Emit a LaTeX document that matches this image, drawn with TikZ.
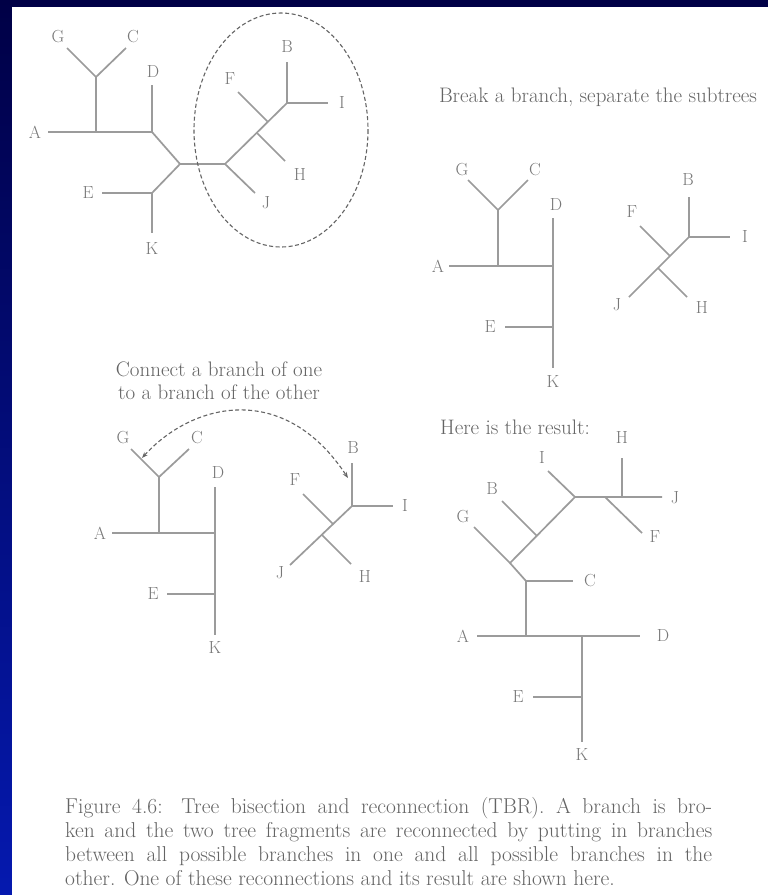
\documentclass[tikz,border=0pt]{standalone}
\usetikzlibrary{arrows.meta}
\definecolor{linegray}{RGB}{155,155,155}
\definecolor{labgray}{RGB}{120,120,120}
\definecolor{txtgray}{RGB}{100,100,100}
\definecolor{navytop}{RGB}{0,0,70}
\definecolor{navybot}{RGB}{5,25,175}
\begin{document}
\begin{tikzpicture}[x=1pt,y=-1pt,
  br/.style={draw=linegray,line width=1.7pt},
  lab/.style={text=labgray,font=\fontsize{17.5}{20}\selectfont,inner sep=0pt},
  head/.style={text=txtgray,font=\fontsize{21}{23}\selectfont,inner sep=0pt,align=center},
  capt/.style={text=txtgray,font=\fontsize{21.5}{24}\selectfont,inner sep=0pt,text width=647pt,align=justify},
  dsh/.style={draw=txtgray,line width=1.1pt,dash pattern=on 4pt off 2.5pt,>={Stealth[length=6pt,width=4.5pt]}}
]
\useasboundingbox (0,0) rectangle (768,895);
\shade[top color=navytop,bottom color=navybot] (0,0) rectangle (768,895);
\fill[white] (12,7) rectangle (768,895);

% ---------- Tree 1 (top left) ----------
\coordinate (t1gc) at (96,77);
\coordinate (t1g) at (67,48);
\coordinate (t1c) at (126,48);
\coordinate (t1a) at (48,132);
\coordinate (t1ag) at (96,132);
\coordinate (t1d) at (152,132);
\coordinate (t1dt) at (152,85);
\coordinate (t1m) at (180,164);
\coordinate (t1ek) at (152,193);
\coordinate (t1e) at (102,193);
\coordinate (t1k) at (152,233);
\coordinate (t1j) at (225,164);
\coordinate (t1je) at (255,193);
\coordinate (t1h) at (257,133);
\coordinate (t1he) at (285,161);
\coordinate (t1f) at (268,122);
\coordinate (t1fe) at (238,92);
\coordinate (t1bi) at (287,103);
\coordinate (t1b) at (287,62);
\coordinate (t1i) at (328,103);
\draw[br] (t1g) -- (t1gc) -- (t1c);
\draw[br] (t1gc) -- (t1ag);
\draw[br] (t1a) -- (t1d) -- (t1dt);
\draw[br] (t1d) -- (t1m) -- (t1ek);
\draw[br] (t1e) -- (t1ek) -- (t1k);
\draw[br,line width=2.4pt] (t1m) -- (t1j);
\draw[br] (t1j) -- (t1je);
\draw[br] (t1j) -- (t1bi);
\draw[br] (t1h) -- (t1he);
\draw[br] (t1f) -- (t1fe);
\draw[br] (t1b) -- (t1bi) -- (t1i);
\node[lab] (l1G) at (58,37) {G};
\node[lab] (l1C) at (133,37) {C};
\node[lab] (l1D) at (153,72) {D};
\node[lab] (l1A) at (35,132) {A};
\node[lab] (l1E) at (88,193) {E};
\node[lab] (l1K) at (152,249) {K};
\node[lab] (l1J) at (266,203) {J};
\node[lab] (l1H) at (300,175) {H};
\node[lab] (l1F) at (230,79) {F};
\node[lab] (l1B) at (287,47) {B};
\node[lab] (l1I) at (342,103) {I};
\draw[dsh] (281,130) ellipse [x radius=87, y radius=117];

% ---------- Heading 1 ----------
\node[head] (h1) at (598,97) {Break a branch, separate the subtrees};

% ---------- Tree 2 (top right, left part) ----------
\coordinate (t2gc) at (498,210);
\coordinate (t2g) at (468,180);
\coordinate (t2c) at (528,180);
\coordinate (t2a) at (449,266);
\coordinate (t2ag) at (498,266);
\coordinate (t2d) at (553,266);
\coordinate (t2dt) at (553,218);
\coordinate (t2e) at (505,327);
\coordinate (t2ek) at (553,327);
\coordinate (t2k) at (553,368);
\draw[br] (t2g) -- (t2gc) -- (t2c);
\draw[br] (t2gc) -- (t2ag);
\draw[br] (t2a) -- (t2d);
\draw[br] (t2dt) -- (t2k);
\draw[br] (t2e) -- (t2ek);
\node[lab] (l2G) at (462,170) {G};
\node[lab] (l2C) at (535,170) {C};
\node[lab] (l2D) at (556,205) {D};
\node[lab] (l2A) at (438,266) {A};
\node[lab] (l2E) at (490,327) {E};
\node[lab] (l2K) at (553,382) {K};

% ---------- Tree 3 (top right, right part) ----------
\coordinate (t3bi) at (689,237);
\coordinate (t3b) at (689,197);
\coordinate (t3i) at (730,237);
\coordinate (t3f) at (670,256);
\coordinate (t3fe) at (640,226);
\coordinate (t3h) at (658,268);
\coordinate (t3he) at (687,297);
\coordinate (t3j) at (629,297);
\draw[br] (t3b) -- (t3bi) -- (t3i);
\draw[br] (t3bi) -- (t3j);
\draw[br] (t3f) -- (t3fe);
\draw[br] (t3h) -- (t3he);
\node[lab] (l3B) at (688,180) {B};
\node[lab] (l3I) at (745,237) {I};
\node[lab] (l3F) at (632,212) {F};
\node[lab] (l3H) at (702,308) {H};
\node[lab] (l3J) at (617,305) {J};

% ---------- Heading 2 ----------
\node[head] (h2) at (219,381) {Connect a branch of one\\to a branch of the other};

% ---------- Tree 4 (bottom left, left part) ----------
\coordinate (t4gc) at (159,477);
\coordinate (t4g) at (131,449);
\coordinate (t4c) at (189,449);
\coordinate (t4a) at (112,533);
\coordinate (t4ag) at (159,533);
\coordinate (t4d) at (215,533);
\coordinate (t4dt) at (215,487);
\coordinate (t4e) at (167,594);
\coordinate (t4ek) at (215,594);
\coordinate (t4k) at (215,635);
\draw[br] (t4g) -- (t4gc) -- (t4c);
\draw[br] (t4gc) -- (t4ag);
\draw[br] (t4a) -- (t4d);
\draw[br] (t4dt) -- (t4k);
\draw[br] (t4e) -- (t4ek);
\node[lab] (l4G) at (123,438) {G};
\node[lab] (l4C) at (197,438) {C};
\node[lab] (l4D) at (218,473) {D};
\node[lab] (l4A) at (100,533) {A};
\node[lab] (l4E) at (153,594) {E};
\node[lab] (l4K) at (215,648) {K};

% ---------- Tree 5 (bottom left, right part) ----------
\coordinate (t5bi) at (352,506);
\coordinate (t5b) at (352,463);
\coordinate (t5i) at (393,506);
\coordinate (t5f) at (333,524);
\coordinate (t5fe) at (303,494);
\coordinate (t5h) at (322,535);
\coordinate (t5he) at (351,564);
\coordinate (t5j) at (290,565);
\draw[br] (t5b) -- (t5bi) -- (t5i);
\draw[br] (t5bi) -- (t5j);
\draw[br] (t5f) -- (t5fe);
\draw[br] (t5h) -- (t5he);
\node[lab] (l5B) at (353,448) {B};
\node[lab] (l5I) at (405,506) {I};
\node[lab] (l5F) at (295,480) {F};
\node[lab] (l5H) at (365,577) {H};
\node[lab] (l5J) at (280,573) {J};

% dashed double arrow
\coordinate (arrS) at (142,458);
\coordinate (arrE) at (348,478);
\draw[dsh,<->] (arrS) .. controls (193,402) and (284,381) .. (arrE);

% ---------- Heading 3 ----------
\node[head,anchor=west] (h3) at (440,427) {Here is the result:};

% ---------- Tree 6 (bottom right) ----------
\coordinate (t6h) at (622,458);
\coordinate (t6hj) at (622,497);
\coordinate (t6i) at (548,471);
\coordinate (t6ij) at (575,497);
\coordinate (t6fj) at (605,497);
\coordinate (t6fe) at (642,533);
\coordinate (t6j) at (662,497);
\coordinate (t6bj) at (537,536);
\coordinate (t6be) at (502,501);
\coordinate (t6gj) at (510,563);
\coordinate (t6ge) at (474,527);
\coordinate (t6cj) at (526,581);
\coordinate (t6ce) at (573,581);
\coordinate (t6ad) at (526,636);
\coordinate (t6a) at (477,636);
\coordinate (t6d) at (640,636);
\coordinate (t6ka) at (582,636);
\coordinate (t6e) at (533,697);
\coordinate (t6ek) at (582,697);
\coordinate (t6k) at (582,742);
\draw[br] (t6h) -- (t6hj);
\draw[br] (t6i) -- (t6ij) -- (t6j);
\draw[br] (t6fj) -- (t6fe);
\draw[br] (t6ij) -- (t6gj) -- (t6cj);
\draw[br] (t6bj) -- (t6be);
\draw[br] (t6gj) -- (t6ge);
\draw[br] (t6cj) -- (t6ce);
\draw[br] (t6cj) -- (t6ad);
\draw[br] (t6a) -- (t6d);
\draw[br] (t6ka) -- (t6k);
\draw[br] (t6e) -- (t6ek);
\node[lab] (l6H) at (622,438) {H};
\node[lab] (l6I) at (542,458) {I};
\node[lab] (l6J) at (675,498) {J};
\node[lab] (l6F) at (655,537) {F};
\node[lab] (l6B) at (492,489) {B};
\node[lab] (l6G) at (463,517) {G};
\node[lab] (l6C) at (590,581) {C};
\node[lab] (l6A) at (463,636) {A};
\node[lab] (l6D) at (663,636) {D};
\node[lab] (l6E) at (518,697) {E};
\node[lab] (l6K) at (582,755) {K};

% ---------- Caption ----------
\node[capt,anchor=north west] (cap) at (65,797) {Figure 4.6: Tree bisection and reconnection (TBR). A branch is bro-\linebreak
ken and the two tree fragments are reconnected by putting in branches\linebreak
between all possible branches in one and all possible branches in the\linebreak
other. One of these reconnections and its result are shown here.};
\end{tikzpicture}
\end{document}
